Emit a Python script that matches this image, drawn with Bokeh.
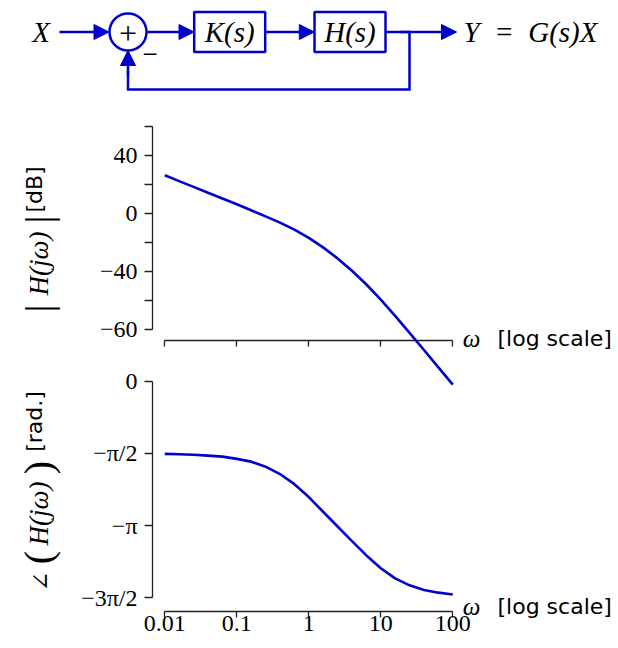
import math
from bokeh.plotting import figure
from bokeh.models import Range1d, LinearAxis, LogAxis, FixedTicker, Arrow, NormalHead
from bokeh.layouts import column
from bokeh.embed import file_html
from bokeh.resources import INLINE
from bokeh.core.properties import value

# ---------------- data ----------------
omega = [0.01, 0.0158, 0.0251, 0.0398, 0.0631, 0.1, 0.158, 0.251, 0.398, 0.631,
         1.0, 1.58, 2.51, 3.98, 6.31, 10.0, 15.8, 25.1, 39.8, 63.1, 100.0]
mag_db = [26.0, 22.0, 18.0, 14.0, 10.0, 6.0, 1.9, -2.3, -6.6, -11.5,
          -17.1, -23.7, -31.3, -39.8, -49.3, -59.8, -71.0, -82.7, -94.5, -106.5, -118.4]
phase_rad = [-1.58, -1.59, -1.60, -1.62, -1.64, -1.69, -1.75, -1.86, -2.02, -2.24,
             -2.52, -2.84, -3.16, -3.48, -3.79, -4.07, -4.29, -4.44, -4.54, -4.60, -4.64]

mag_ticks = [60, 40, 20, 0, -20, -40, -60, -80]
mag_tick_labels = ["", "40", "", "0", "", "\u221240", "", "\u221260"]
phase_ticks = [0.0, -math.pi / 2, -math.pi, -3 * math.pi / 2]
phase_tick_labels = ["0", "\u2212\u03c0/2", "\u2212\u03c0", "\u22123\u03c0/2"]
freq_ticks = [0.01, 0.1, 1, 10, 100]
freq_tick_labels = ["0.01", "0.1", "1", "10", "100"]

BLUE = "#0000CC"
AX = "#222222"
SERIF = "Liberation Serif"
SANS = "DejaVu Sans"

X_RANGE = (10 ** -2.1708, 10 ** 4.1903)


def clean(p):
    p.grid.visible = False
    p.outline_line_color = None
    p.background_fill_color = None
    p.border_fill_color = None


def style_axis(ax, tick_out):
    ax.axis_line_color = AX
    ax.axis_line_width = 1.3
    ax.major_tick_line_color = AX
    ax.major_tick_line_width = 1.3
    ax.major_tick_in = 0
    ax.major_tick_out = tick_out
    ax.minor_tick_out = 0
    ax.minor_tick_in = 0
    ax.major_label_text_font = SERIF
    ax.major_label_text_font_size = "24px"
    ax.major_label_text_color = "black"


# ---------------- magnitude plot ----------------
mag = figure(width=618, height=355, x_axis_type="log",
             x_range=Range1d(*X_RANGE), y_range=Range1d(-87.93, 77.59),
             output_backend="svg", toolbar_location=None,
             x_axis_location=None, y_axis_location=None,
             min_border_left=152, min_border_right=8, min_border_top=100, min_border_bottom=15)
clean(mag)
mag_y = LinearAxis(bounds=(-80, 60), ticker=FixedTicker(ticks=mag_ticks, minor_ticks=[]),
                   major_label_overrides=dict(zip(mag_ticks, mag_tick_labels)))
style_axis(mag_y, 8)
mag_y.major_label_standoff = 7
mag_x = LogAxis(bounds=(0.01, 100), ticker=FixedTicker(ticks=freq_ticks, minor_ticks=[]),
                major_label_overrides={t: "" for t in freq_ticks})
style_axis(mag_x, 6)
mag_x.major_label_standoff = 0
mag_x.major_label_text_font_size = "0px"
mag.add_layout(mag_y, "left")
mag.add_layout(mag_x, "below")
mag.line(omega, mag_db, line_color=BLUE, line_width=2.6)

# ---------------- phase plot ----------------
ph = figure(width=618, height=306, x_axis_type="log",
            x_range=Range1d(*X_RANGE), y_range=Range1d(-5.0098, 0.8854),
            output_backend="svg", toolbar_location=None,
            x_axis_location=None, y_axis_location=None,
            min_border_left=152, min_border_right=8, min_border_top=0, min_border_bottom=35)
ph.margin = (-15, 0, 0, 0)
clean(ph)
ph.extra_y_ranges = {"db": Range1d(-274.83, -87.93)}
ph_y = LinearAxis(bounds=(-3 * math.pi / 2, 0), ticker=FixedTicker(ticks=phase_ticks, minor_ticks=[]),
                  major_label_overrides=dict(zip(phase_ticks, phase_tick_labels)))
style_axis(ph_y, 8)
ph_y.major_label_standoff = 7
ph_x = LogAxis(bounds=(0.01, 100), ticker=FixedTicker(ticks=freq_ticks, minor_ticks=[]),
               major_label_overrides=dict(zip(freq_ticks, freq_tick_labels)))
style_axis(ph_x, 6)
ph_x.major_label_standoff = -2
ph.add_layout(ph_y, "left")
ph.add_layout(ph_x, "below")
ph.line(omega, phase_rad, line_color=BLUE, line_width=2.6)
# continuation of the magnitude curve below its own axis
ph.line(omega, mag_db, y_range_name="db", line_color=BLUE, line_width=2.6)

plots = column(mag, ph, spacing=0)

# ---------------- overlay: block diagram and free texts (page pixels) ----------------
ov = figure(width=618, height=630, x_range=Range1d(0, 618), y_range=Range1d(630, 0),
            output_backend="svg", toolbar_location=None, min_border=0,
            x_axis_location=None, y_axis_location=None)
ov.margin = (-646, 0, 0, 0)
clean(ov)

yl = 31.5
ov.rect(x=[229.2, 349.5], y=[yl, yl], width=71, height=40,
        fill_color=None, line_color=BLUE, line_width=2.5)
ov.circle(x=[127.5], y=[yl], radius=18.5, fill_color=None, line_color=BLUE, line_width=2.5)
ov.line(x=[384.5, 409, 409, 127.5, 127.5], y=[yl, yl, 89, 89, 70],
        line_color=BLUE, line_width=2.5, line_join="miter")


def arrow(x0, y0, x1, y1):
    ov.add_layout(Arrow(x_start=x0, y_start=y0, x_end=x1, y_end=y1,
                        line_color=BLUE, line_width=2.5,
                        end=NormalHead(size=15, fill_color=BLUE, line_color=BLUE, line_width=1)))


arrow(59, yl, 108.5, yl)
arrow(146.5, yl, 193.5, yl)
arrow(264.8, yl, 313.8, yl)
arrow(400, yl, 456, yl)
arrow(127.5, 75, 127.5, 50)

ov.text(x=[40.5, 229.2, 349.5], y=[yl, yl, yl], text=["X", "K(s)", "H(s)"],
        text_font=value(SERIF), text_font_style="italic", text_font_size="29px",
        text_align="center", text_baseline="middle", text_color="black")
ov.text(x=[463], y=[yl], text=["Y\u2002=\u2002G(s)X"],
        text_font=value(SERIF), text_font_style="italic", text_font_size="29px",
        text_align="left", text_baseline="middle", text_color="black")
ov.text(x=[127.5], y=[yl + 1], text=["+"],
        text_font=value(SERIF), text_font_size="32px",
        text_align="center", text_baseline="middle", text_color="black")
ov.text(x=[149.5], y=[53], text=["\u2212"],
        text_font=value(SERIF), text_font_size="27px",
        text_align="center", text_baseline="middle", text_color="black")


def txt(x, y, s, font, size, style="normal", angle=0.0, align="center", baseline="middle"):
    ov.text(x=[x], y=[y], text=[s], text_font=value(font), text_font_size=size,
            text_font_style=style, angle=angle, text_align=align,
            text_baseline=baseline, text_color="black")


R = math.pi / 2
# magnitude y label
txt(38, 308, "|", SERIF, "38px", angle=R)
txt(38, 263, "H(j\u03c9)", SERIF, "27px", "italic", angle=R)
txt(38, 219, "|", SERIF, "38px", angle=R)
txt(34, 189, "[dB]", SANS, "22px", angle=R)
# phase y label
txt(40, 581, "\u2220", "DejaVu Serif", "24px", angle=R)
txt(38, 557, "(", SERIF, "40px", angle=R)
txt(38, 513, "H(j\u03c9)", SERIF, "27px", "italic", angle=R)
txt(38, 467, ")", SERIF, "40px", angle=R)
txt(34, 421, "[rad.]", SANS, "22px", angle=R)
# x labels
for base in (338, 605.5):
    txt(471, base, "\u03c9", SERIF, "25px", "italic", baseline="alphabetic")
    txt(497, base, "[log scale]", SANS, "22px", align="left", baseline="alphabetic")

open("out.html", "w").write(file_html([plots, ov], INLINE))
